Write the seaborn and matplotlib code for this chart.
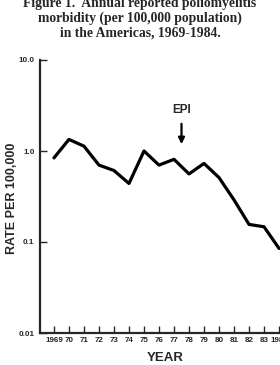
import matplotlib
matplotlib.use("Agg")
import matplotlib.pyplot as plt
import seaborn as sns
import pandas as pd

years = [1969, 1970, 1971, 1972, 1973, 1974, 1975, 1976, 1977, 1978, 1979, 1980, 1981, 1982, 1983, 1984]
rates = [0.84, 1.34, 1.13, 0.70, 0.61, 0.44, 1.00, 0.70, 0.81, 0.56, 0.73, 0.51, 0.29, 0.156, 0.147, 0.085]
tick_labels = ["1969", "70", "71", "72", "73", "74", "75", "76", "77", "78", "79", "80", "81", "82", "83", "1984"]
y_ticks = [0.01, 0.1, 1.0, 10.0]
y_tick_labels = ["0.01", "0.1", "1.0", "10.0"]
title_lines = ["Figure 1.  Annual reported poliomyelitis",
               "morbidity (per 100,000 population)",
               "in the Americas, 1969-1984."]
epi_year = 1977.5

sns.set_style("ticks")
plt.rcParams['font.family'] = ['Liberation Sans', 'DejaVu Sans']

W, H = 280, 365
fig = plt.figure(figsize=(W / 100, H / 100), dpi=100)
# axes in pixel coords: left 40, right 281, top 60, bottom 333
ax = fig.add_axes([40 / W, 1 - 333 / H, (281 - 40) / W, (333 - 60) / H])

df = pd.DataFrame({"year": years, "rate": rates})
sns.lineplot(data=df, x="year", y="rate", ax=ax, color="black", linewidth=2.3)

ax.set_yscale("log")
ax.set_ylim(0.01, 10.0)
ax.set_xlim(1968.07, 1984.13)
ax.set_xticks(years)
ax.set_xticklabels(tick_labels, fontsize=5.8, fontweight="bold")
ax.set_yticks(y_ticks)
ax.set_yticklabels(y_tick_labels, fontsize=5.8, fontweight="bold")
ax.yaxis.set_minor_locator(matplotlib.ticker.NullLocator())
ax.tick_params(axis="both", direction="in", length=5, width=1, pad=4)
ax.tick_params(axis="x", pad=3)
for s in ["top", "right"]:
    ax.spines[s].set_visible(False)
for s in ["left", "bottom"]:
    ax.spines[s].set_linewidth(1.6)

ax.set_xlabel("YEAR", fontsize=9.5, fontweight="bold")
ax.xaxis.set_label_coords((165 - 40) / (281 - 40), -(358 - 333) / (333 - 60))
ax.xaxis.label.set_va("center")
ax.set_ylabel("RATE PER 100,000", fontsize=9, fontweight="bold")
ax.yaxis.set_label_coords(-(40 - 12) / (281 - 40), (333 - 198) / (333 - 60))
ax.yaxis.label.set_va("center")

ax.annotate("EPI", xy=(epi_year, 1.19), xytext=(epi_year, 2.8),
            ha="center", va="center", fontsize=8.5, fontweight="bold",
            arrowprops=dict(arrowstyle="-|>", color="black", lw=1.6,
                            mutation_scale=9, shrinkA=3, shrinkB=0))

for i, line in enumerate(title_lines):
    fig.text(0.5, 1 - (3 + 15 * i) / H, line, ha="center", va="center",
             fontsize=9.8, fontweight="bold", family="Liberation Serif")

fig.savefig("out.png", dpi=100)
